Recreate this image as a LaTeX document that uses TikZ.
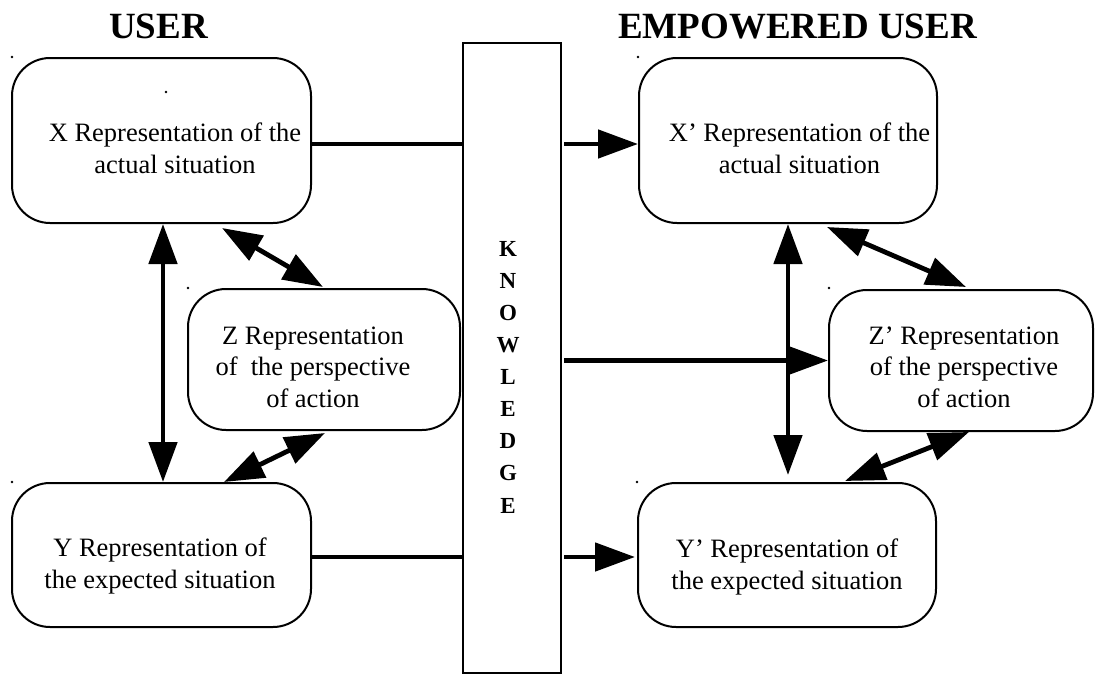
\documentclass[tikz,border=0pt]{standalone}
\usepackage{fontspec}
\setmainfont{Liberation Serif}
\usetikzlibrary{arrows.meta,calc}
\begin{document}
\begin{tikzpicture}[x=1pt,y=-1pt,
  rbox/.style={draw, line width=2pt, rounded corners=38pt, inner sep=0pt},
  kbox/.style={draw, line width=2pt, inner sep=0pt},
  lbl/.style={font=\fontsize{26.5}{31.5}\selectfont, align=center, inner sep=0pt, anchor=base},
  klbl/.style={font=\fontsize{23}{32.1}\selectfont\bfseries, align=center, inner sep=0pt, anchor=base},
  ttl/.style={font=\fontsize{37}{40}\selectfont\bfseries, inner sep=0pt, anchor=base},
  conn/.style={line width=4.8pt},
  arr/.style={conn, -{Triangle[length=40pt,width=28pt]}},
  dbl/.style={conn, {Triangle[length=40pt,width=28pt]}-{Triangle[length=40pt,width=28pt]}},
  speck/.style={fill=black}]
\useasboundingbox (0,0) rectangle (1096,675);

% titles
\node[ttl] (tu) at (158.5,38) {USER};
\node[ttl] (te) at (797.5,38) {EMPOWERED USER};

% knowledge bar (label anchored on its last line)
\node[kbox, minimum width=98pt, minimum height=630pt] (K) at (512,358) {};
\node[klbl] (Kt) at (508,513) {K\\N\\O\\W\\L\\E\\D\\G\\E};

% user side (labels anchored on their last line)
\node[rbox, minimum width=299pt, minimum height=165pt] (X) at (161.5,140.5) {};
\node[rbox, minimum width=272pt, minimum height=141pt] (Z) at (324,359.5) {};
\node[rbox, minimum width=299pt, minimum height=144pt] (Y) at (161.5,555) {};
\node[lbl] (Xt) at (175,173) {X Representation of the\\actual situation};
\node[lbl] (Zt) at (313,407) {Z Representation\\of\ \ the perspective\\of action};
\node[lbl] (Yt) at (160,588) {Y Representation of\\the expected situation};

% empowered side
\node[rbox, minimum width=298pt, minimum height=165pt] (Xp) at (788,140.5) {};
\node[rbox, minimum width=264pt, minimum height=141pt] (Zp) at (961,360.5) {};
\node[rbox, minimum width=298pt, minimum height=144pt] (Yp) at (787,555) {};
\node[lbl] (Xpt) at (799.5,173) {X’ Representation of the\\actual situation};
\node[lbl] (Zpt) at (964,407) {Z’ Representation\\of the perspective\\of action};
\node[lbl] (Ypt) at (787,589) {Y’ Representation of\\the expected situation};

% stray marks
\foreach \p in {(12,57),(166,92),(638,57),(188,288),(829,288),(12,482),(637,482)}
  \fill[speck] \p circle[radius=1.3pt];

% links through the knowledge bar
\coordinate (xl) at ($(X.east)+(0,3.5)$);
\coordinate (yl) at ($(Y.east)+(0,2)$);
\draw[conn] (xl) -- (xl -| K.west);
\draw[arr] ([xshift=2pt]xl -| K.east) -- (xl -| Xp.west);
\draw[conn] (yl) -- (yl -| K.west);
\draw[arr] ([xshift=2pt]yl -| K.east) -- ([xshift=-2pt]yl -| Yp.west);
\draw[arr] ([xshift=2pt]Zp.west -| K.east) -- (Zp.west);

% user side relations
\draw[dbl] ($(X.south)+(1.5,0)$) -- ($(Y.north)+(1.5,0)$);
\draw[dbl] ($(X.south east)+(-90,4)$) -- ($(Z.north)+(-1,-1)$);
\draw[dbl] ($(Z.south)+(1,2)$) -- ($(Y.north east)+(-88,0)$);

% empowered side relations
\draw[dbl] (Xp.south) -- ($(Yp.north)+(1,-7)$);
\draw[dbl] ($(Xp.south east)+(-111,3)$) -- ($(Zp.north)+(5,-2)$);
\draw[dbl] ($(Zp.south)+(8,0)$) -- ($(Yp.north east)+(-92,-1)$);
\end{tikzpicture}
\end{document}
